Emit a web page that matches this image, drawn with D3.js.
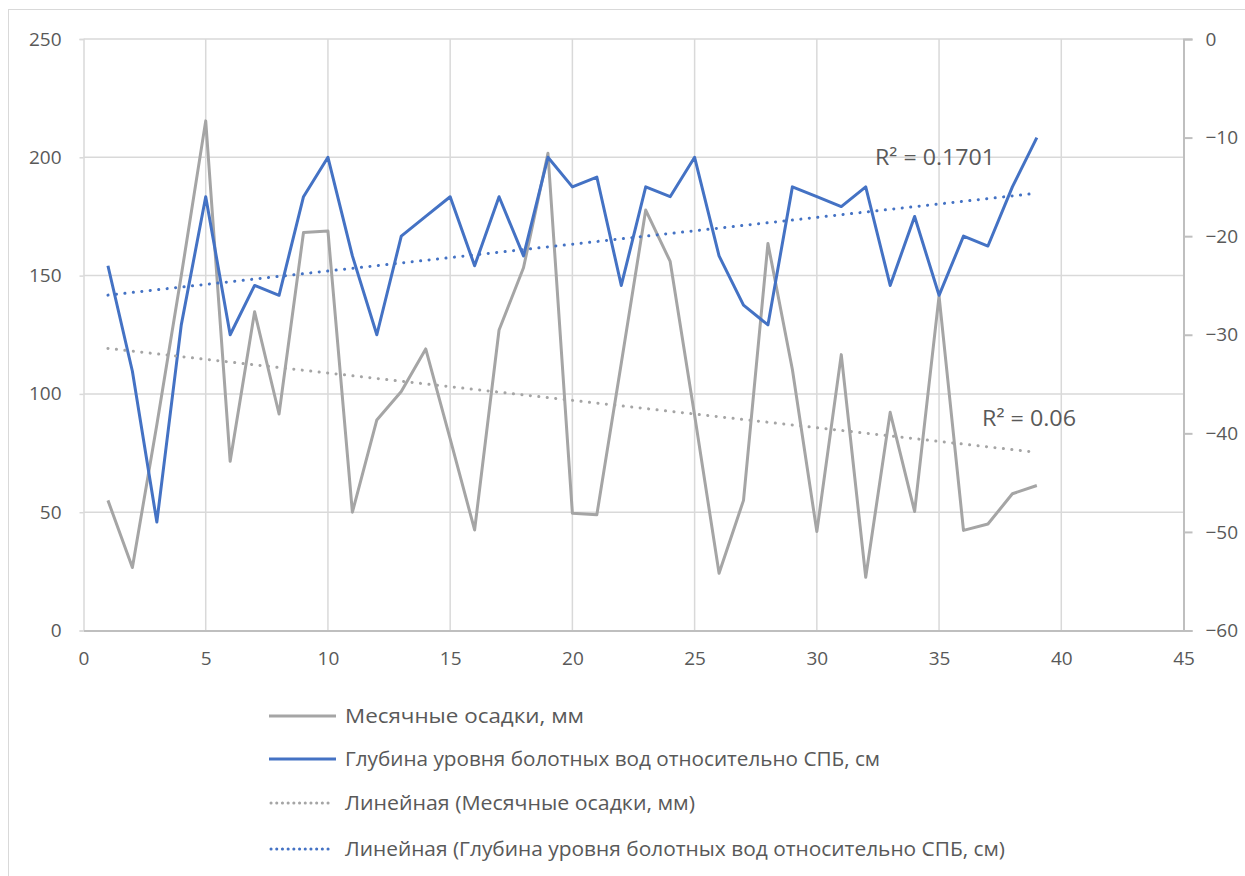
<!DOCTYPE html>
<html>
<head>
<meta charset="utf-8">
<script src="https://cdn.jsdelivr.net/npm/d3@7/dist/d3.min.js"></script>
<style>
  html, body { margin: 0; padding: 0; background: #fff; }
  svg { display: block; }
  text { font-family: "Open Sans", "Noto Sans", sans-serif; fill: #595959; }
</style>
</head>
<body>
<svg id="chart" width="1245" height="876"></svg>
<script>
// Month index (1..39)
const months = d3.range(1, 40);

// Monthly precipitation, mm (left axis)
const precipitation = [
  55, 26.6, 87, 150, 215.4, 71.5, 134.7, 91.5, 168.2, 168.8,
  50, 89, 101, 119, 81, 42.5, 127, 153.3, 201.7, 49.6,
  48.9, 113, 177.7, 156, 91, 24.2, 55, 163.6, 110.3, 41.8,
  116.6, 22.5, 92.2, 50.3, 141.3, 42.3, 45, 57.8, 61.3
];

// Bog water level depth relative to the mire surface, cm (right axis)
const waterLevel = [
  -23, -33.7, -49, -29, -16, -30, -25, -26, -16, -12,
  -22, -30, -20, -18, -16, -23, -16, -22, -12, -15,
  -14, -25, -15, -16, -12, -22, -27, -29, -15, -16,
  -17, -15, -25, -18, -26, -20, -21, -15, -10
];

const xTicks = [0, 5, 10, 15, 20, 25, 30, 35, 40, 45];
const leftTicks = [0, 50, 100, 150, 200, 250];
const rightTicks = [0, -10, -20, -30, -40, -50, -60];

const seriesNames = [
  "Месячные осадки, мм",
  "Глубина уровня болотных вод относительно СПБ, см",
  "Линейная (Месячные осадки, мм)",
  "Линейная (Глубина уровня болотных вод относительно СПБ, см)"
];
const r2Labels = ["R² = 0.06", "R² = 0.1701"];

const GREY = "#a5a5a5", BLUE = "#4472c4", GRID = "#d9d9d9", AXIS = "#bfbfbf";

const svg = d3.select("#chart");

// outer chart frame (only top and left edges fall inside the view)
svg.append("rect")
  .attr("x", 8.5).attr("y", 9.5).attr("width", 1300).attr("height", 900)
  .attr("fill", "none").attr("stroke", GRID).attr("stroke-width", 1);

const plot = { left: 83.5, right: 1183.5, top: 39, bottom: 630.5 };

const x = d3.scaleLinear().domain([0, 45]).range([plot.left, plot.right]);
const yL = d3.scaleLinear().domain([0, 250]).range([plot.bottom, plot.top]);
const yR = d3.scaleLinear().domain([-60, 0]).range([plot.bottom, plot.top]);

// gridlines
svg.append("g").selectAll("line").data(leftTicks.filter(d => d > 0)).join("line")
  .attr("x1", plot.left).attr("x2", plot.right)
  .attr("y1", d => yL(d)).attr("y2", d => yL(d))
  .attr("stroke", GRID).attr("stroke-width", 1.5);
svg.append("g").selectAll("line").data(xTicks.filter(d => d > 0 && d < 45)).join("line")
  .attr("x1", d => x(d)).attr("x2", d => x(d))
  .attr("y1", plot.top).attr("y2", plot.bottom)
  .attr("stroke", GRID).attr("stroke-width", 1.5);

// left axis
const leftAxis = svg.append("g").attr("transform", `translate(${plot.left},0)`)
  .call(d3.axisLeft(yL).tickValues(leftTicks).tickSize(4).tickPadding(18).tickFormat(d3.format("d")));
leftAxis.select(".domain").attr("stroke", GRID).attr("stroke-width", 1.5);
leftAxis.selectAll(".tick line").attr("stroke", GRID).attr("stroke-width", 1.5);
leftAxis.selectAll("text").attr("font-size", 19).attr("fill", "#595959")
  .attr("font-family", "Open Sans, sans-serif");

// right axis
const rightAxis = svg.append("g").attr("transform", `translate(${plot.right},0)`)
  .call(d3.axisRight(yR).tickValues(rightTicks).tickSize(9).tickPadding(13).tickFormat(d3.format("d")));
rightAxis.select(".domain").attr("stroke", AXIS).attr("stroke-width", 2);
rightAxis.selectAll(".tick line").attr("stroke", AXIS).attr("stroke-width", 2);
rightAxis.selectAll("text").attr("font-size", 19).attr("fill", "#595959")
  .attr("font-family", "Open Sans, sans-serif");

// bottom axis
const bottomAxis = svg.append("g").attr("transform", `translate(0,${plot.bottom})`)
  .call(d3.axisBottom(x).tickValues(xTicks).tickSize(0).tickPadding(21).tickFormat(d3.format("d")));
bottomAxis.select(".domain").attr("stroke", AXIS).attr("stroke-width", 2);
bottomAxis.selectAll("text").attr("font-size", 19).attr("fill", "#595959")
  .attr("font-family", "Open Sans, sans-serif");

// least-squares trend line
function linearFit(xs, ys) {
  const mx = d3.mean(xs), my = d3.mean(ys);
  let sxy = 0, sxx = 0;
  xs.forEach((xi, i) => { sxy += (xi - mx) * (ys[i] - my); sxx += (xi - mx) ** 2; });
  const b = sxy / sxx, a = my - b * mx;
  return t => a + b * t;
}
const fitP = linearFit(months, precipitation);
const fitW = linearFit(months, waterLevel);
const ends = [months[0], months[months.length - 1]];

const lineL = d3.line().x(d => x(d[0])).y(d => yL(d[1]));
const lineR = d3.line().x(d => x(d[0])).y(d => yR(d[1]));

// data lines
svg.append("path").datum(months.map((m, i) => [m, precipitation[i]]))
  .attr("d", lineL).attr("fill", "none").attr("stroke", GREY)
  .attr("stroke-width", 3).attr("stroke-linejoin", "round");
svg.append("path").datum(months.map((m, i) => [m, waterLevel[i]]))
  .attr("d", lineR).attr("fill", "none").attr("stroke", BLUE)
  .attr("stroke-width", 3).attr("stroke-linejoin", "round");

// trend lines
svg.append("path").datum(ends.map(m => [m, fitP(m)]))
  .attr("d", lineL).attr("fill", "none").attr("stroke", GREY)
  .attr("stroke-width", 3).attr("stroke-linecap", "round").attr("stroke-dasharray", "0.1 8.4");
svg.append("path").datum(ends.map(m => [m, fitW(m)]))
  .attr("d", lineR).attr("fill", "none").attr("stroke", BLUE)
  .attr("stroke-width", 3).attr("stroke-linecap", "round").attr("stroke-dasharray", "0.1 8.4");

// R² labels
svg.append("text").attr("x", 982).attr("y", 418).attr("dy", "0.35em")
  .attr("font-size", 22).attr("textLength", 94).attr("lengthAdjust", "spacingAndGlyphs")
  .text(r2Labels[0]);
svg.append("text").attr("x", 875).attr("y", 157).attr("dy", "0.35em")
  .attr("font-size", 22).attr("textLength", 120).attr("lengthAdjust", "spacingAndGlyphs")
  .text(r2Labels[1]);

// legend
const legendRows = [
  { name: seriesNames[0], color: GREY, dash: null, y: 716 },
  { name: seriesNames[1], color: BLUE, dash: null, y: 759 },
  { name: seriesNames[2], color: GREY, dash: "0.1 5.6", y: 803 },
  { name: seriesNames[3], color: BLUE, dash: "0.1 5.6", y: 849 }
];
const textWidths = [239, 535, 350, 660];
const legend = svg.append("g");
legendRows.forEach((r, i) => {
  legend.append("line")
    .attr("x1", r.dash ? 271 : 269).attr("x2", r.dash ? 333 : 336)
    .attr("y1", r.y).attr("y2", r.y)
    .attr("stroke", r.color).attr("stroke-width", 3)
    .attr("stroke-linecap", r.dash ? "round" : "butt")
    .attr("stroke-dasharray", r.dash);
  legend.append("text").attr("x", 345).attr("y", r.y).attr("dy", "0.35em")
    .attr("font-size", 20)
    .attr("textLength", textWidths[i]).attr("lengthAdjust", "spacingAndGlyphs")
    .text(r.name);
});
</script>
</body>
</html>
